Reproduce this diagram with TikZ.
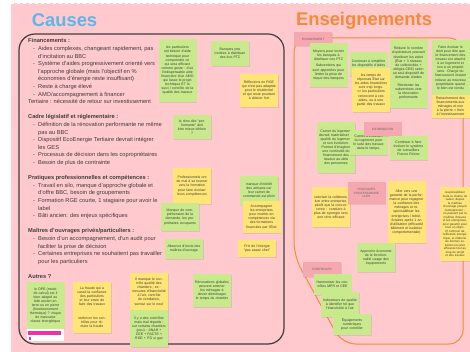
\documentclass[tikz,border=0pt]{standalone}
\usepackage{fontspec}
\setmainfont{Liberation Sans}
\usetikzlibrary{shadows}
\definecolor{rose}{RGB}{255,201,205}
\definecolor{rosefonce}{RGB}{245,168,176}
\definecolor{vert}{RGB}{200,234,140}
\definecolor{jaune}{RGB}{255,229,118}
\definecolor{bleu}{RGB}{92,182,232}
\definecolor{orangeE}{RGB}{247,138,58}
\definecolor{gristexte}{RGB}{62,62,62}
\definecolor{griscadre}{RGB}{62,62,62}
\newcommand{\petit}{\fontsize{3.5}{4.1}\selectfont}
\newcommand{\puce}{\makebox[10pt][l]{\hspace{5pt}-}}
\newcommand{\suite}{\hspace*{10pt}}

\begin{document}
\begin{tikzpicture}[x=1pt,y=-1pt,
  note/.style={align=center, font=\petit, text=gristexte, inner sep=1pt,
    text width=34pt, minimum width=38pt,
    drop shadow={shadow xshift=.5pt, shadow yshift=-.6pt, opacity=.2}},
  vertnote/.style={note, fill=vert},
  jaunenote/.style={note, fill=jaune},
  etiquette/.style={note, fill=rosefonce, text=gristexte!80, font=\fontsize{3.1}{3.7}\selectfont},
  titre/.style={font=\fontsize{18.4}{20}\selectfont\bfseries},
  liste/.style={align=left, font=\fontsize{5.7}{7.6}\selectfont, text=gristexte, inner sep=0pt}]
\useasboundingbox (0,0) rectangle (470,352);
\fill [rose] (11,3) rectangle (470,352);
\draw [white, dashed, thick] (11,3) -- (470,3);
\draw [griscadre, line width=1.2pt, rounded corners=16pt] (19,34) rectangle (284,344);
\draw [orangeE, line width=1pt, rounded corners=14pt] (294,150) -- (294,38) -- (463,38) -- (463,344) -- (342,344) -- (294,256) -- cycle;
\node [titre, text=bleu] (causes) at (64.5,20) {Causes};
\node [titre, text=orangeE] (enseignements) at (364,21) {Enseignements};
\node [liste, anchor=north west] (texte) at (28,38.5) {%
\textbf{Financements :}\\
\puce Aides complexes, changeant rapidement, pas\\
\suite d'incitation au BBC\\
\puce Système d'aides progressivement orienté vers\\
\suite l'approche globale (mais l'objectif en \%\\
\suite économies d'énergie reste insuffisant)\\
\puce Reste à charge élevé\\
\puce AMO/accompagnement à financer\\
Tertiaire : nécessité de retour sur investissement\\[7.6pt]
\textbf{Cadre législatif et réglementaire :}\\
\puce Définition de la rénovation performante ne même\\
\suite pas au BBC\\
\puce Dispositif EcoEnergie Tertiaire devrait intégrer\\
\suite les GES\\
\puce Processus de décision dans les copropriétaires\\
\puce Besoin de plus de contrainte\\[7.6pt]
\textbf{Pratiques professionnelles et compétences :}\\
\puce Travail en silo, manque d'approche globale et\\
\suite d'offre BBC, besoin de groupements\\
\puce Formation RGE courte, 1 stagiaire pour avoir le\\
\suite label\\
\puce Bâti ancien: des enjeux spécifiques\\[7.6pt]
\textbf{Maîtres d'ouvrages privés/particuliers :}\\
\puce Besoin d'un accompagnement, d'un audit pour\\
\suite faciliter la prise de décision\\
\puce Certaines entreprises ne souhaitent pas travailler\\
\suite pour les particuliers\\[7.6pt]
\textbf{Autres ?}};
\node [vertnote, minimum height=63] (c1) at (177.5,70.5) {les particuliers ont besoin d'aide technique pour comprendre ce qui sera efficace comme geste : d'où l'indispensable aide financière d'un AMO qui fasse le projet technique ET le suivi / contrôle de la qualité des travaux};
\node [vertnote, minimum height=25] (c2) at (230,53.5) {Banques peu incitées à distribuer des éco-PTZ};
\node [jaunenote, minimum height=33] (c3) at (259,90.5) {Réflexions en RGE qui n'est pas adaptée pour le résidentiel et qui reste pourtant à désirer fort};
\node [vertnote, minimum height=24] (c4) at (192,127) {la réno dite "performante" doit être mieux définie\\ ?};
\node [jaunenote, minimum height=36] (c5) at (192,186) {Professionnels ont du mal à se tourner vers la formation pour faire évoluer leurs compétences};
\node [vertnote, minimum height=28] (c6) at (180,217) {Manque de compréhension de la demande, les propriétaires occupants};
\node [vertnote, minimum height=29] (c7) at (259,190.5) {manque d'intérêt des artisans car leur carnet de commande est plein};
\node [jaunenote, minimum height=32] (c8) at (261.5,217) {Accompagner les entreprises pour monter en compétences via des formations financées par l'État};
\node [vertnote, minimum height=20] (c9) at (184,249) {Absence d'envie des maîtres d'ouvrage};
\node [jaunenote, minimum height=17] (c10) at (257,248.5) {Prix de l'énergie "pas assez cher"};
\node [vertnote, minimum height=33] (c11) at (212,290.5) {Rénovations globales peuvent amener les ménages à devoir déménager le temps du chantier};
\node [vertnote, minimum height=47] (c12) at (45.5,305.5) {le DPE (mode de calcul) est il bien adapté au bâti ancien en terre ou en pierre (fonctionnement thermique) ? risque de mauvaise classe énergétique};
\fill [white] (27,329) rectangle (64,341);
\fill [magenta!80] (28,330.5) rectangle (61,335);
\fill [magenta!80] (28.5,336.5) rectangle (31,339.5);
\node [jaunenote, minimum height=29] (c13) at (92,296.5) {La fraude qui a cassé la confiance des particuliers et leur envie de faire des travaux};
\node [jaunenote, minimum height=22] (c14) at (92,322) {renforcer les contrôles pour réduire la fraude};
\node [jaunenote, minimum height=37] (c15) at (149,291.5) {Il manque le contrôle qualité des chantiers ; ex : mesures d'étanchéité à l'air, contrôle de ventilation, surtout sur le neuf};
\node [vertnote, minimum height=37] (c16) at (149,328.5) {Il y a des contrôles mais mal répartis : sur certains chantiers (peu) : ANAH + CEE + PACTE + RGE + PG si gaz};
\node [etiquette, minimum height=14] (financement) at (313,39) {FINANCEMENT};
\node [vertnote, minimum height=44] (e1) at (328.5,65) {Moyens pour inciter les banques à distribuer ces PTZ\\[2pt] Subventions qui sont apportées pour limiter la prise de risque des banques};
\node [vertnote, minimum height=24] (e2) at (368.5,64) {Continuer à simplifier les dispositifs d'aides};
\node [jaunenote, minimum height=44] (e3) at (371,90) {les temps de réponses État sur les aides financières sont trop longs.\\ => les particuliers renoncent à ces aides, ou à une partie des travaux};
\node [vertnote, minimum height=69] (e4) at (408.5,73.5) {Réduire le nombre d'opérateurs pouvant distribuer les aides (État + 3 niveaux de collectivités + obligés CEE) selon un seul dispositif de demande d'aides\\[4pt] Réorienter les subventions vers la rénovation performante};
\node [vertnote, minimum height=55] (e5) at (450.5,67.5) {Faire évoluer le droit pour dire que le financement des travaux est attaché à un logement et non à un propriétaire. Charge du financement restant incluse au nouveau propriétaire quand le bien est vendu};
\node [jaunenote, minimum height=23] (e6) at (450.5,106.5) {Rattachement des financements aux ménages et non à la pierre = frein à l'investissement};
\node [vertnote, minimum height=51] (e7) at (336,147.5) {Carnet du logement devrait matérialiser la qualité du logement et son évolution. Permet d'imaginer une continuité du financement des travaux au-delà des personnes};
\node [vertnote, minimum height=25] (e8) at (368.5,142.5) {Carnet d'entretien du logement pour le suivi des travaux dans le temps.};
\node [etiquette, minimum height=14] (information) at (382.5,129) {INFORMATION};
\node [vertnote, minimum height=24] (e9) at (408.5,148) {Continuer à faire évoluer le système de conseillers France Rénov};
\node [jaunenote, minimum height=40] (e10) at (331,207) {valoriser la collaboration entre entreprise, plutôt que la concurrence : conduire à plus de synergie vers une réno efficace};
\node [etiquette, minimum height=22] (pratiques) at (366.5,193) {PRATIQUES\\PROFESSIONNE\\LLES};
\node [jaunenote, minimum height=62] (e11) at (406.5,212) {Aller vers une garantie de la performance pour regagner la confiance des ménages et responsabiliser les entreprises / bénéficiaires après 1 an d'utilisation (efficacité bâtiment et isolation comportementale)};
\node [jaunenote, minimum height=74, minimum width=30pt, text width=27.5pt, font=\fontsize{3}{3.5}\selectfont] (e12) at (455,224) {responsabiliser toute la chaîne de valeur, depuis la maîtrise d'ouvrage jusqu'à l'entrepreneur : en passant par la maîtrise d'œuvre et les entreprises, pour garantir pour tous un objectif commun de l'efficacité énergétique, et élaborer les bonnes solutions les plus efficaces tout au long du projet et des travaux};
\node [vertnote, minimum height=29] (e13) at (376,257.5) {Approche économie de la fonctionnalité usage des équipements};
\node [etiquette, minimum height=15] (controles) at (322,269.5) {CONTROLES};
\node [vertnote, minimum height=21] (e14) at (332.5,284.5) {Harmoniser les contrôles MPR et CEE};
\node [vertnote, minimum height=25] (e15) at (340,304.5) {Indicateurs de qualité à identifier tel que l'étanchéité à l'air};
\node [vertnote, minimum height=21] (e16) at (352,324.5) {Équipements numériques pour contrôler};
\end{tikzpicture}
\end{document}
